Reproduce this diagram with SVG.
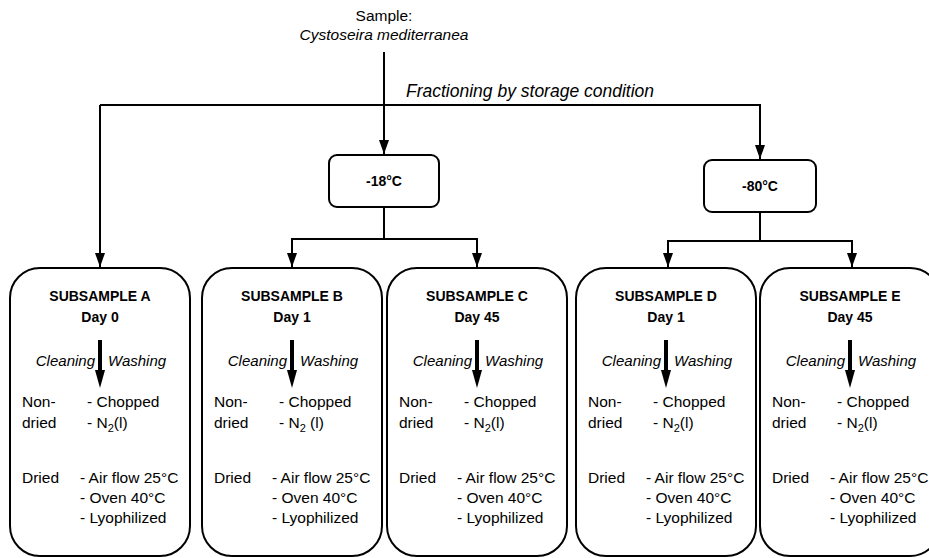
<svg xmlns="http://www.w3.org/2000/svg" width="929" height="558" viewBox="0 0 929 558">
<style>
text{font-family:"Liberation Sans",Arial,sans-serif;fill:#000}
.t{font-size:15.5px}
.it{font-size:15px;font-style:italic}
.hd{font-size:14px;font-weight:bold;text-anchor:middle}
.c{text-anchor:middle}
.e{text-anchor:end}
.box{fill:#fff;stroke:#000;stroke-width:2}
.con{fill:none;stroke:#000;stroke-width:2}
.sub{font-size:11px}
</style>
<defs>
<marker id="ah" viewBox="0 0 14 10" refX="14" refY="5" markerWidth="14" markerHeight="10" markerUnits="userSpaceOnUse" orient="auto">
<path d="M0,0 L14,5 L0,10 z" fill="#000"/>
</marker>
<g id="inner">
<rect x="88" y="72" width="4" height="31" fill="#000"/>
<path d="M85,102 L95,102 L90,120 z" fill="#000"/>
<text class="it e" x="85" y="98">Cleaning</text>
<text class="it" x="98" y="98">Washing</text>
<text class="t" x="12" y="139">Non-</text>
<text class="t" x="12" y="160">dried</text>
<text class="t" x="77" y="139">- Chopped</text>
<text class="t" x="12" y="215">Dried</text>
<text class="t" x="70" y="215">- Air flow 25°C</text>
<text class="t" x="70" y="235">- Oven 40°C</text>
<text class="t" x="70" y="255">- Lyophilized</text>
</g>
</defs>

<g id="sample">
<text class="t c" x="384" y="21">Sample:</text>
<text class="t c" x="384" y="40" font-style="italic">Cystoseira mediterranea</text>
</g>

<g id="connectors">
<path class="con" d="M384,52 V154" marker-end="url(#ah)"/>
<path class="con" d="M100,105 H760"/>
<path class="con" d="M100,105 V267" marker-end="url(#ah)"/>
<path class="con" d="M760,104 V159" marker-end="url(#ah)"/>
<path class="con" d="M384,207 V239 M291,239 H478"/>
<path class="con" d="M292,239 V267" marker-end="url(#ah)"/>
<path class="con" d="M477,239 V267" marker-end="url(#ah)"/>
<path class="con" d="M760,212 V241 M667,241 H853"/>
<path class="con" d="M668,241 V267" marker-end="url(#ah)"/>
<path class="con" d="M852,241 V267" marker-end="url(#ah)"/>
<text x="406" y="97" font-size="17.5px" font-style="italic">Fractioning by storage condition</text>
</g>

<g id="t18">
<rect class="box" x="329" y="155" width="110" height="52" rx="8"/>
<text class="hd" x="384" y="186">-18°C</text>
</g>
<g id="t80">
<rect class="box" x="704" y="160" width="112" height="52" rx="8"/>
<text class="hd" x="760" y="191">-80°C</text>
</g>

<g id="subA" transform="translate(10,268)">
<rect class="box" x="0" y="0" width="180" height="288" rx="30"/>
<text class="hd" x="90" y="33">SUBSAMPLE A</text>
<text class="hd" x="90" y="54">Day 0</text>
<use href="#inner"/>
<text class="t" x="77" y="160">- N<tspan class="sub" dy="4">2</tspan><tspan dy="-4">(l)</tspan></text>
</g>
<g id="subB" transform="translate(202,268)">
<rect class="box" x="0" y="0" width="180" height="288" rx="30"/>
<text class="hd" x="90" y="33">SUBSAMPLE B</text>
<text class="hd" x="90" y="54">Day 1</text>
<use href="#inner"/>
<text class="t" x="77" y="160">- N<tspan class="sub" dy="4">2</tspan><tspan dy="-4"> (l)</tspan></text>
</g>
<g id="subC" transform="translate(387,268)">
<rect class="box" x="0" y="0" width="180" height="288" rx="30"/>
<text class="hd" x="90" y="33">SUBSAMPLE C</text>
<text class="hd" x="90" y="54">Day 45</text>
<use href="#inner"/>
<text class="t" x="77" y="160">- N<tspan class="sub" dy="4">2</tspan><tspan dy="-4">(l)</tspan></text>
</g>
<g id="subD" transform="translate(576,268)">
<rect class="box" x="0" y="0" width="180" height="288" rx="30"/>
<text class="hd" x="90" y="33">SUBSAMPLE D</text>
<text class="hd" x="90" y="54">Day 1</text>
<use href="#inner"/>
<text class="t" x="77" y="160">- N<tspan class="sub" dy="4">2</tspan><tspan dy="-4">(l)</tspan></text>
</g>
<g id="subE" transform="translate(760,268)">
<rect class="box" x="0" y="0" width="180" height="288" rx="30"/>
<text class="hd" x="90" y="33">SUBSAMPLE E</text>
<text class="hd" x="90" y="54">Day 45</text>
<use href="#inner"/>
<text class="t" x="77" y="160">- N<tspan class="sub" dy="4">2</tspan><tspan dy="-4">(l)</tspan></text>
</g>
</svg>
